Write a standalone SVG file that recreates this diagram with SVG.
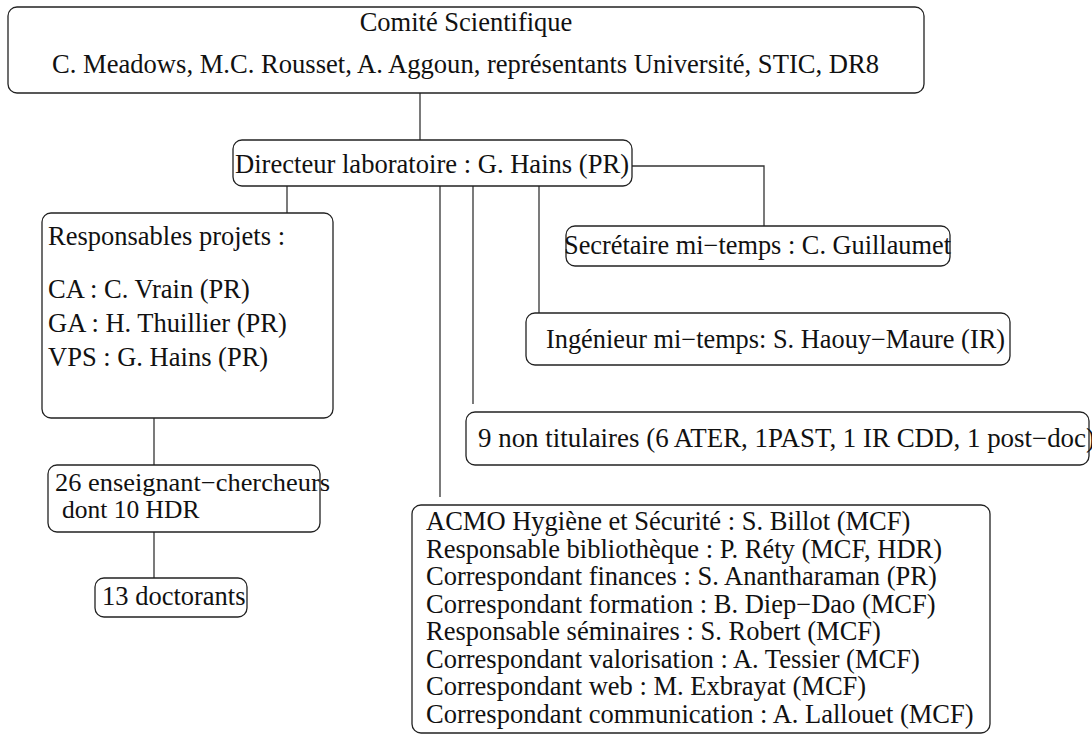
<svg xmlns="http://www.w3.org/2000/svg" width="1092" height="734" viewBox="0 0 1092 734">
<style>
.box{fill:#fff;stroke:#222;stroke-width:1.3}
.t{font-family:"Liberation Serif","Times New Roman",Times,serif;font-size:26.5px;fill:#111}
.s{font-size:25.5px}
.c{fill:none;stroke:#333;stroke-width:1.3}
</style>
<rect width="1092" height="734" fill="#fff"/>
<g id="connectors">
<path class="c" d="M420 93V140"/>
<path class="c" d="M632 166H764V226"/>
<path class="c" d="M287 186V213"/>
<path class="c" d="M440 186V497"/>
<path class="c" d="M473 186V404"/>
<path class="c" d="M539 186V313"/>
<path class="c" d="M154 418V465"/>
<path class="c" d="M154 532V578"/>
</g>
<g id="comite">
<rect class="box" x="8" y="7" width="916" height="86" rx="9"/>
<text class="t" x="466" y="31" text-anchor="middle">Comité Scientifique</text>
<text class="t" x="52" y="73" textLength="827" lengthAdjust="spacingAndGlyphs">C. Meadows, M.C. Rousset, A. Aggoun, représentants Université, STIC, DR8</text>
</g>
<g id="directeur">
<rect class="box" x="233" y="140" width="399" height="46" rx="9"/>
<text class="t" x="235" y="173" textLength="394" lengthAdjust="spacingAndGlyphs">Directeur laboratoire : G. Hains (PR)</text>
</g>
<g id="responsables">
<rect class="box" x="42" y="213" width="291" height="205" rx="9"/>
<text class="t" x="48" y="245">Responsables projets :</text>
<text class="t" x="48" y="298">CA : C. Vrain (PR)</text>
<text class="t" x="48" y="332">GA : H. Thuillier (PR)</text>
<text class="t" x="48" y="366">VPS : G. Hains (PR)</text>
</g>
<g id="enseignants">
<rect class="box" x="48" y="465" width="272" height="67" rx="9"/>
<text class="t s" x="55" y="491" textLength="275" lengthAdjust="spacingAndGlyphs">26 enseignant−chercheurs</text>
<text class="t s" x="62" y="518">dont 10 HDR</text>
</g>
<g id="doctorants">
<rect class="box" x="95" y="578" width="152" height="39" rx="9"/>
<text class="t" x="102" y="605">13 doctorants</text>
</g>
<g id="secretaire">
<rect class="box" x="566" y="226" width="384" height="40" rx="9"/>
<text class="t" x="564" y="254" textLength="387" lengthAdjust="spacingAndGlyphs">Secrétaire mi−temps : C. Guillaumet</text>
</g>
<g id="ingenieur">
<rect class="box" x="526" y="313" width="484" height="52" rx="9"/>
<text class="t" x="546" y="348" textLength="459" lengthAdjust="spacingAndGlyphs">Ingénieur mi−temps: S. Haouy−Maure (IR)</text>
</g>
<g id="nontitulaires">
<rect class="box" x="466" y="412" width="623" height="53" rx="9"/>
<text class="t" x="478" y="447" textLength="617" lengthAdjust="spacingAndGlyphs">9 non titulaires (6 ATER, 1PAST, 1 IR CDD, 1 post−doc)</text>
</g>
<g id="fonctions">
<rect class="box" x="412" y="505" width="578" height="228" rx="9"/>
<text class="t" x="426" y="530">ACMO Hygiène et Sécurité : S. Billot (MCF)</text>
<text class="t" x="426" y="557.5">Responsable bibliothèque : P. Réty (MCF, HDR)</text>
<text class="t" x="426" y="585">Correspondant finances : S. Anantharaman (PR)</text>
<text class="t" x="426" y="612.5">Correspondant formation : B. Diep−Dao (MCF)</text>
<text class="t" x="426" y="640">Responsable séminaires : S. Robert (MCF)</text>
<text class="t" x="426" y="667.5">Correspondant valorisation : A. Tessier (MCF)</text>
<text class="t" x="426" y="695">Correspondant web : M. Exbrayat (MCF)</text>
<text class="t" x="426" y="722.5">Correspondant communication : A. Lallouet (MCF)</text>
</g>
</svg>
